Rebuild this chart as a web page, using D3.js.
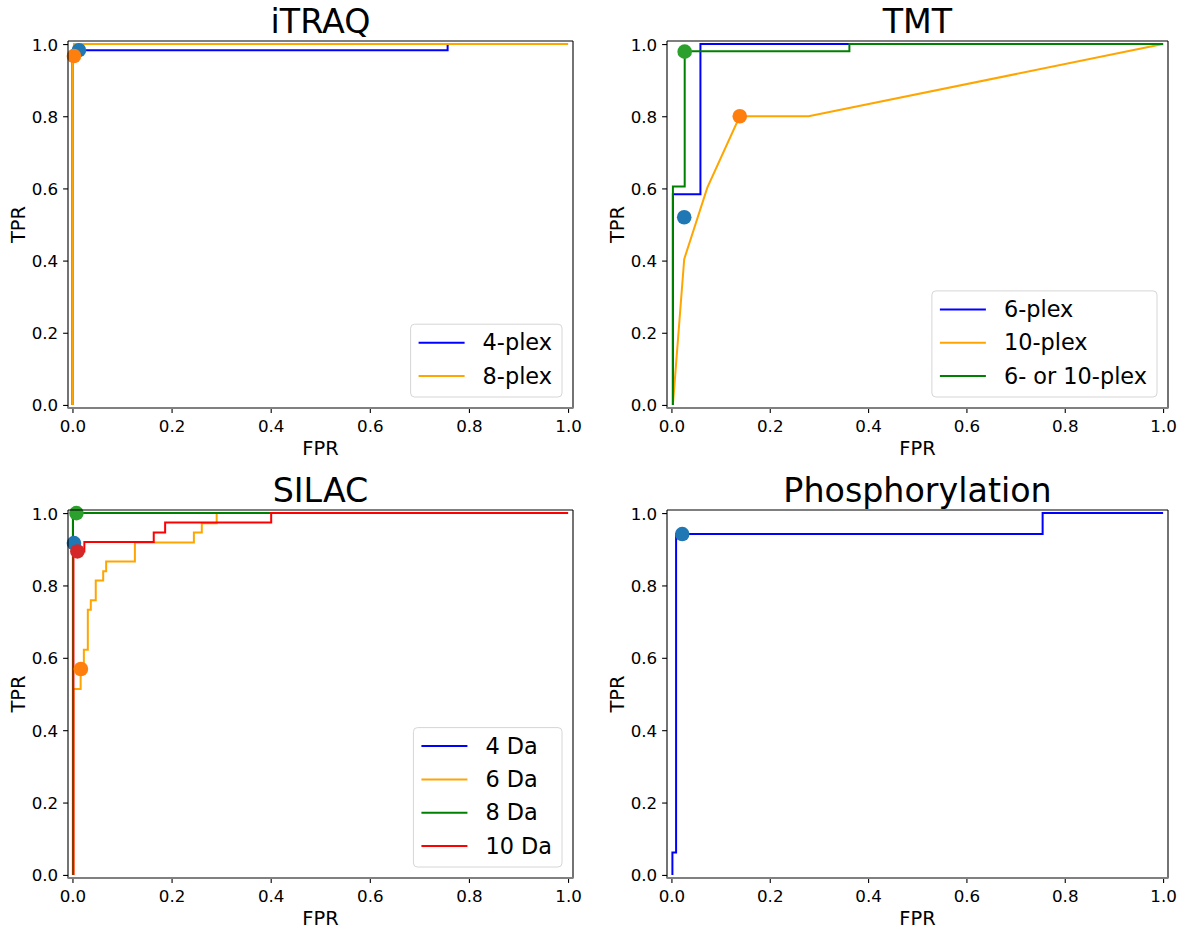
<!DOCTYPE html>
<html>
<head>
<meta charset="utf-8">
<script src="https://cdn.jsdelivr.net/npm/d3@7"></script>
<style>
body { margin: 0; background: #fff; }
text { font-family: "DejaVu Sans", sans-serif; }
</style>
</head>
<body>
<script>
var width = 1186;
var height = 930;

// shared tick values
var ticks = [0, 0.2, 0.4, 0.6, 0.8, 1.0];

// iTRAQ
var itraqLabels = ["4-plex", "8-plex"];
var itraq4Fpr = [0, 0, 0.757, 0.757, 1];
var itraq4Tpr = [0, 0.983, 0.983, 1, 1];
var itraq8Fpr = [0, 0, 0.003, 0.003, 1];
var itraq8Tpr = [0, 0.967, 0.967, 1, 1];
var itraqDotFpr = [0.013, 0.003];
var itraqDotTpr = [0.983, 0.967];

// TMT
var tmtLabels = ["6-plex", "10-plex", "6- or 10-plex"];
var tmt6Fpr = [0.003, 0.003, 0.059, 0.059, 1];
var tmt6Tpr = [0, 0.584, 0.584, 1, 1];
var tmt10Fpr = [0.003, 0.026, 0.073, 0.139, 0.279, 1];
var tmt10Tpr = [0, 0.404, 0.602, 0.8, 0.8, 1];
var tmtAnyFpr = [0.003, 0.003, 0.027, 0.027, 0.362, 0.362, 1];
var tmtAnyTpr = [0, 0.605, 0.605, 0.98, 0.98, 1, 1];
var tmtDotFpr = [0.026, 0.139, 0.027];
var tmtDotTpr = [0.52, 0.8, 0.979];

// SILAC
var silacLabels = ["4 Da", "6 Da", "8 Da", "10 Da"];
var silac4Fpr = [0.001, 0.001, 1];
var silac4Tpr = [0, 1, 1];
var silac6Fpr = [0.002, 0.002, 0.0165, 0.0165, 0.023, 0.023, 0.031, 0.031, 0.037, 0.037, 0.047, 0.047,
                 0.062, 0.062, 0.068, 0.068, 0.126, 0.126, 0.245, 0.245, 0.261, 0.261, 0.291, 0.291, 1];
var silac6Tpr = [0, 0.514, 0.514, 0.569, 0.569, 0.622, 0.622, 0.733, 0.733, 0.759, 0.759, 0.814,
                 0.814, 0.839, 0.839, 0.866, 0.866, 0.919, 0.919, 0.946, 0.946, 0.972, 0.972, 1, 1];
var silac8Fpr = [0.001, 0.001, 1];
var silac8Tpr = [0, 1, 1];
var silac10Fpr = [0.002, 0.002, 0.024, 0.024, 0.164, 0.164, 0.187, 0.187, 0.401, 0.401, 1];
var silac10Tpr = [0, 0.894, 0.894, 0.92, 0.92, 0.946, 0.946, 0.974, 0.974, 1, 1];
var silacDotFpr = [0.003, 0.017, 0.008, 0.01];
var silacDotTpr = [0.917, 0.569, 1.0, 0.894];

// Phosphorylation
var phosFpr = [0.002, 0.002, 0.0095, 0.0095, 0.755, 0.755, 1];
var phosTpr = [0, 0.062, 0.062, 0.942, 0.942, 1, 1];
var phosDotFpr = [0.022];
var phosDotTpr = [0.942];

var lineColors = ["blue", "orange", "green", "red"];
var dotColors = ["#1f77b4", "#ff7f0e", "#2ca02c", "#d62728"];

var svg = d3.select("body").append("svg")
    .attr("width", width)
    .attr("height", height);

svg.append("rect").attr("width", width).attr("height", height).attr("fill", "#fff");

function zipXY(fpr, tpr) {
    return fpr.map(function(f, i) { return [f, tpr[i]]; });
}

function drawPanel(p) {
    var x = d3.scaleLinear().domain([-0.009, 1.01]).range([p.left, p.right]);
    var y = d3.scaleLinear().domain([-0.0085, 1.0085]).range([p.bottom, p.top]);
    var g = svg.append("g");

    // x axis
    var gx = g.append("g")
        .attr("transform", "translate(0," + p.bottom + ")")
        .call(d3.axisBottom(x).tickValues(ticks).tickFormat(d3.format(".1f"))
            .tickSize(4.9).tickPadding(6.9));
    gx.select(".domain").remove();
    gx.selectAll("line").attr("stroke", "#000").attr("stroke-width", 1.1);
    gx.selectAll("text").attr("font-size", 16.7).attr("fill", "#000")
        .attr("font-family", "DejaVu Sans");

    // y axis
    var gy = g.append("g")
        .attr("transform", "translate(" + p.left + ",0)")
        .call(d3.axisLeft(y).tickValues(ticks).tickFormat(d3.format(".1f"))
            .tickSize(4.9).tickPadding(4.9));
    gy.select(".domain").remove();
    gy.selectAll("line").attr("stroke", "#000").attr("stroke-width", 1.1);
    gy.selectAll("text").attr("font-size", 16.7).attr("fill", "#000")
        .attr("font-family", "DejaVu Sans").attr("dy", "0.36em");

    // curves
    var line = d3.line()
        .x(function(d) { return x(d[0]); })
        .y(function(d) { return y(d[1]); });

    p.series.forEach(function(s, i) {
        g.append("path")
            .attr("d", line(zipXY(s[0], s[1])))
            .attr("fill", "none")
            .attr("stroke", lineColors[i])
            .attr("stroke-width", 2);
    });

    // threshold dots
    p.dotFpr.forEach(function(f, i) {
        g.append("circle")
            .attr("cx", x(f))
            .attr("cy", y(p.dotTpr[i]))
            .attr("r", 7.3)
            .attr("fill", dotColors[i]);
    });

    // spines
    g.append("line").attr("x1", p.left).attr("x2", p.right).attr("y1", p.top).attr("y2", p.top)
        .attr("stroke", "#000").attr("stroke-width", 1.1);
    g.append("line").attr("x1", p.left).attr("x2", p.left).attr("y1", p.top).attr("y2", p.bottom)
        .attr("stroke", "#000").attr("stroke-width", 1.1);
    g.append("line").attr("x1", p.right).attr("x2", p.right).attr("y1", p.top).attr("y2", p.bottom)
        .attr("stroke", "#000").attr("stroke-width", 1.1);
    g.append("line").attr("x1", p.left - 0.5).attr("x2", p.right + 0.5).attr("y1", p.bottom).attr("y2", p.bottom)
        .attr("stroke", "#808080").attr("stroke-width", 1.8);

    // title and axis labels
    var cx = (p.left + p.right) / 2;
    g.append("text").attr("x", cx).attr("y", p.top - 8)
        .attr("text-anchor", "middle").attr("font-size", 33.3).text(p.title);
    g.append("text").attr("x", cx).attr("y", p.bottom + 47)
        .attr("text-anchor", "middle").attr("font-size", 19.4).text("FPR");
    g.append("text")
        .attr("transform", "translate(" + (p.left - 43.5) + "," + ((p.top + p.bottom) / 2) + ") rotate(-90)")
        .attr("text-anchor", "middle").attr("font-size", 19.4).text("TPR");

    // legend (lower right)
    if (p.labels) {
        var n = p.labels.length;
        var lg = g.append("g");
        var box = lg.append("rect");
        var texts = [];
        var maxW = 0;
        p.labels.forEach(function(lab) {
            var t = lg.append("text").attr("font-size", 22.4).text(lab);
            maxW = Math.max(maxW, t.node().getComputedTextLength());
            texts.push(t);
        });
        var bw = 72 + maxW + 10;
        var bh = 39.5 + (n - 1) * 33.3;
        var bx = p.right - 11 - bw;
        var by = p.bottom - 11 - bh;
        box.attr("x", bx).attr("y", by).attr("width", bw).attr("height", bh)
            .attr("rx", 4).attr("fill", "#fff").attr("fill-opacity", 0.8)
            .attr("stroke", "#d6d6d6").attr("stroke-width", 1);
        texts.forEach(function(t, i) {
            var ry = by + 18.5 + i * 33.3;
            lg.append("line").attr("x1", bx + 8).attr("x2", bx + 54)
                .attr("y1", ry).attr("y2", ry)
                .attr("stroke", lineColors[i]).attr("stroke-width", 2);
            t.attr("x", bx + 72).attr("y", ry + 7.5).raise();
        });
    }
}

drawPanel({
    title: "iTRAQ", left: 68, right: 573, top: 41, bottom: 408,
    series: [[itraq4Fpr, itraq4Tpr], [itraq8Fpr, itraq8Tpr]],
    dotFpr: itraqDotFpr, dotTpr: itraqDotTpr, labels: itraqLabels
});

drawPanel({
    title: "TMT", left: 667, right: 1168, top: 41, bottom: 408,
    series: [[tmt6Fpr, tmt6Tpr], [tmt10Fpr, tmt10Tpr], [tmtAnyFpr, tmtAnyTpr]],
    dotFpr: tmtDotFpr, dotTpr: tmtDotTpr, labels: tmtLabels
});

drawPanel({
    title: "SILAC", left: 68, right: 573, top: 510, bottom: 878,
    series: [[silac4Fpr, silac4Tpr], [silac6Fpr, silac6Tpr], [silac8Fpr, silac8Tpr], [silac10Fpr, silac10Tpr]],
    dotFpr: silacDotFpr, dotTpr: silacDotTpr, labels: silacLabels
});

drawPanel({
    title: "Phosphorylation", left: 667, right: 1168, top: 510, bottom: 878,
    series: [[phosFpr, phosTpr]],
    dotFpr: phosDotFpr, dotTpr: phosDotTpr, labels: null
});
</script>
</body>
</html>
